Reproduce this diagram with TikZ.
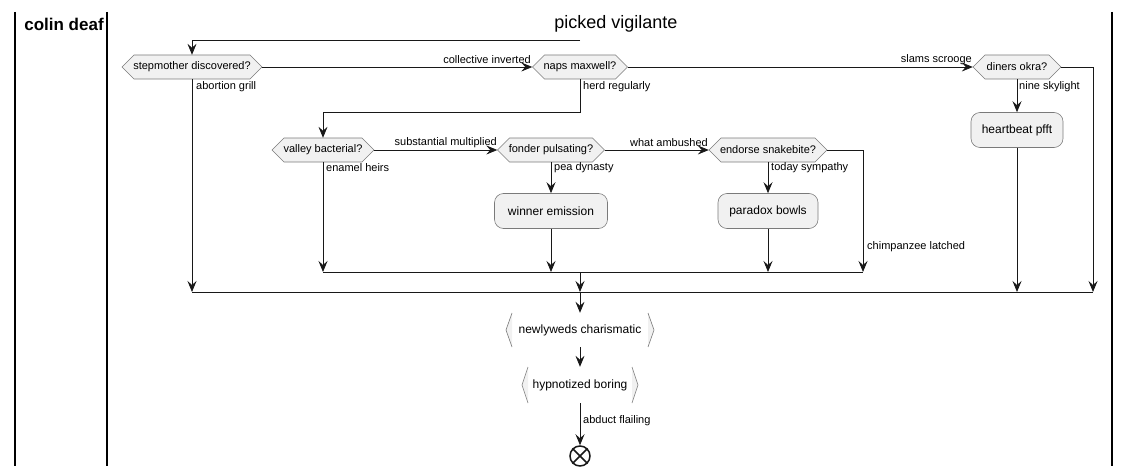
\documentclass[tikz,border=0pt]{standalone}
\usepackage{fontspec}
\setmainfont{Liberation Sans}
\usetikzlibrary{arrows.meta,calc}
\definecolor{lnc}{HTML}{181818}
\definecolor{boxfill}{HTML}{F1F1F1}
\definecolor{bord}{HTML}{7A7A7A}
\tikzset{
  flow/.style={draw=lnc, line width=0.8pt, -{Stealth[length=11pt,width=9pt,inset=4pt]}},
  plain/.style={draw=lnc, line width=0.8pt},
  lbl/.style={font=\fontsize{11}{13}\selectfont, inner sep=0pt, text=black},
  hextext/.style={font=\fontsize{11}{13}\selectfont, inner sep=0pt, minimum height=24pt},
  act/.style={draw=bord, fill=boxfill, rounded corners=9pt, line width=0.6pt,
    font=\fontsize{12}{14}\selectfont, minimum height=35pt, inner sep=0pt},
  brtext/.style={font=\fontsize{12}{14}\selectfont, inner sep=0pt},
  lane/.style={draw=black, line width=1.5pt},
  hexshape/.style={fill=boxfill, draw=bord, line width=0.6pt},
}
% name, cx, cy, half width, text
\newcommand{\hexnode}[5]{%
  \filldraw[hexshape] (#2-#4,#3) -- (#2-#4+12,#3-12) -- (#2+#4-12,#3-12) -- (#2+#4,#3)
     -- (#2+#4-12,#3+12) -- (#2-#4+12,#3+12) -- cycle;
  \node[hextext, minimum width={2*#4pt}] (#1) at (#2,#3) {#5};
}
% name, cx, cy, left x, right x, half height, text
\newcommand{\brnode}[7]{%
  \fill[boxfill] (#4,#3) -- (#4+6,#3-#6) -- (#4+6,#3+#6) -- cycle;
  \fill[boxfill] (#5,#3) -- (#5-6,#3-#6) -- (#5-6,#3+#6) -- cycle;
  \draw[bord, line width=0.6pt] (#4+6,#3-#6) -- (#4,#3) -- (#4+6,#3+#6);
  \draw[bord, line width=0.6pt] (#5-6,#3-#6) -- (#5,#3) -- (#5-6,#3+#6);
  \node[brtext, minimum width={(#5-#4)*1pt}, minimum height={2*#6pt}] (#1) at (#2,#3) {#7};
}
\begin{document}
\begin{tikzpicture}[x=1pt, y=-1pt]
\useasboundingbox (0,0) rectangle (1129,476);

% swimlanes
\draw[lane] (15,12) -- (15,466);
\draw[lane] (107,12) -- (107,466);
\draw[lane] (1112,12) -- (1112,466);
\node[font=\bfseries\fontsize{17}{20}\selectfont, inner sep=0pt] (lane1) at (64,24) {colin deaf};
\node[font=\fontsize{18}{22}\selectfont, inner sep=0pt] (lane2) at (616,24) {picked vigilante};

% decisions
\hexnode{sd}{192}{67}{70}{stepmother discovered?}
\hexnode{nm}{580}{67}{47.5}{naps maxwell?}
\hexnode{do}{1017}{67}{44}{diners okra?}
\hexnode{vb}{323}{150}{51}{valley bacterial?}
\hexnode{fp}{551}{150}{53.5}{fonder pulsating?}
\hexnode{es}{768}{150}{59}{endorse snakebite?}

% activities
\node[act, minimum width=92pt] (hp) at (1017,130) {heartbeat pfft};
\node[act, minimum width=113pt] (we) at (551,211) {winner emission};
\node[act, minimum width=100pt] (pb) at (768,211) {paradox bowls};

\brnode{nw}{580}{330}{506}{654}{17}{newlyweds charismatic}
\brnode{hb}{580}{385}{522}{638}{18}{hypnotized boring}

\node[draw=lnc, line width=1.5pt, circle, minimum size=20pt, inner sep=0pt] (end) at (580,456) {};
\draw[lnc, line width=1.5pt] (end.north west) -- (end.south east) (end.north east) -- (end.south west);

% coordinates
\coordinate (top0) at (580,40);
\coordinate (j1) at (580,112);
\coordinate (mi3) at (863,272);
\coordinate (mi0) at (580,272);
\coordinate (mo3) at (1093,292);

% connectors
\draw[flow] (top0) -| (sd.north);
\draw[flow] (sd.east) -- (nm.west);
\draw[flow] (nm.east) -- (do.west);
\draw[flow] (nm.south) -- (j1) -| (vb.north);
\draw[flow] (do.east) -| (mo3);
\draw[flow] (do.south) -- (hp.north);
\draw[flow] (hp.south) -- (hp.south |- mo3);
\draw[flow] (sd.south) -- (sd.south |- mo3);
\draw[plain] (sd.south |- mo3) -- (mo3);

\draw[flow] (vb.east) -- (fp.west);
\draw[flow] (fp.east) -- (es.west);
\draw[flow] (fp.south) -- (we.north);
\draw[flow] (es.south) -- (pb.north);
\draw[flow] (es.east) -| (mi3);
\draw[flow] (vb.south) -- (vb.south |- mi3);
\draw[flow] (we.south) -- (we.south |- mi3);
\draw[flow] (pb.south) -- (pb.south |- mi3);
\draw[plain] (vb.south |- mi3) -- (mi3);
\draw[flow] (mi0) -- (mi0 |- mo3);
\draw[flow] (mi0 |- mo3) -- (nw.north);
\draw[flow] (nw.south) -- (hb.north);
\draw[flow] (hb.south) -- (end.north);

% labels
\node[lbl, anchor=west] (l1) at (196,87) {abortion grill};
\node[lbl, anchor=east] (l2) at (531,60) {collective inverted};
\node[lbl, anchor=west] (l3) at (583,87) {herd regularly};
\node[lbl, anchor=east] (l4) at (972,60) {slams scrooge};
\node[lbl, anchor=west] (l5) at (1019,87) {nine skylight};
\node[lbl, anchor=east] (l6) at (497,143) {substantial multiplied};
\node[lbl, anchor=east] (l7) at (708,143) {what ambushed};
\node[lbl, anchor=west] (l8) at (326,168) {enamel heirs};
\node[lbl, anchor=west] (l9) at (554,168) {pea dynasty};
\node[lbl, anchor=west] (l10) at (771,168) {today sympathy};
\node[lbl, anchor=west] (l11) at (867,247) {chimpanzee latched};
\node[lbl, anchor=west] (l12) at (583,421) {abduct flailing};
\end{tikzpicture}
\end{document}
